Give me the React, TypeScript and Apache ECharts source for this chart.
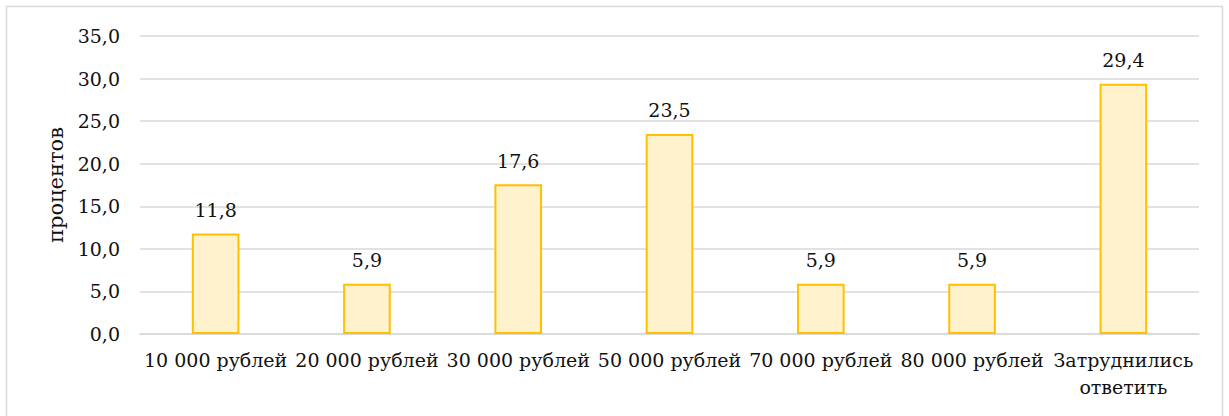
import React, { useEffect, useRef } from "react";
import * as echarts from "echarts";

const categories = [
  "10 000 рублей",
  "20 000 рублей",
  "30 000 рублей",
  "50 000 рублей",
  "70 000 рублей",
  "80 000 рублей",
  "Затруднились\nответить",
];
const values = [11.8, 5.9, 17.6, 23.5, 5.9, 5.9, 29.4];
const yAxisName = "процентов";

const fmt = (v: number) => v.toFixed(1).replace(".", ",");
const FONT = "DejaVu Serif";

export default function App() {
  const ref = useRef<HTMLDivElement>(null);
  useEffect(() => {
    document.body.style.margin = "0";
    const chart = echarts.init(ref.current!, null, { renderer: "svg" });
    chart.setOption({
      animation: false,
      backgroundColor: "#ffffff",
      textStyle: { fontFamily: FONT, fontSize: 19 },
      graphic: [
        {
          type: "rect",
          shape: { x: 6.5, y: 6.5, width: 1216, height: 430 },
          style: { fill: "none", stroke: "#d9d9d9", lineWidth: 1.5 },
          silent: true,
        },
      ],
      grid: { left: 140, right: 30, top: 36, bottom: 82 },
      xAxis: {
        type: "category",
        data: categories,
        axisLine: { show: true, lineStyle: { color: "#d9d9d9", width: 1.5 } },
        axisTick: { show: false },
        axisLabel: {
          color: "#111",
          fontFamily: FONT,
          fontSize: 19,
          lineHeight: 27,
          margin: 12,
          interval: 0,
        },
      },
      yAxis: {
        type: "value",
        min: 0,
        max: 35,
        interval: 5,
        name: yAxisName,
        nameLocation: "middle",
        nameGap: 68,
        nameRotate: 90,
        nameTextStyle: { color: "#111", fontFamily: FONT, fontSize: 21 },
        axisLine: { show: false },
        axisTick: { show: false },
        splitLine: { lineStyle: { color: "#d9d9d9", width: 1.5 } },
        axisLabel: {
          color: "#111",
          fontFamily: FONT,
          fontSize: 19,
          margin: 20,
          formatter: (v: number) => fmt(v),
        },
      },
      series: [
        {
          type: "bar",
          data: values,
          barWidth: "31.5%",
          itemStyle: { color: "#FFF2CC", borderColor: "#FFC000", borderWidth: 2 },
          label: {
            show: true,
            position: "top",
            distance: 14,
            color: "#111",
            fontFamily: FONT,
            fontSize: 19,
            formatter: (p: any) => fmt(p.value),
          },
        },
      ],
    });
    return () => chart.dispose();
  }, []);
  return <div ref={ref} style={{ width: 1229, height: 416 }} />;
}
